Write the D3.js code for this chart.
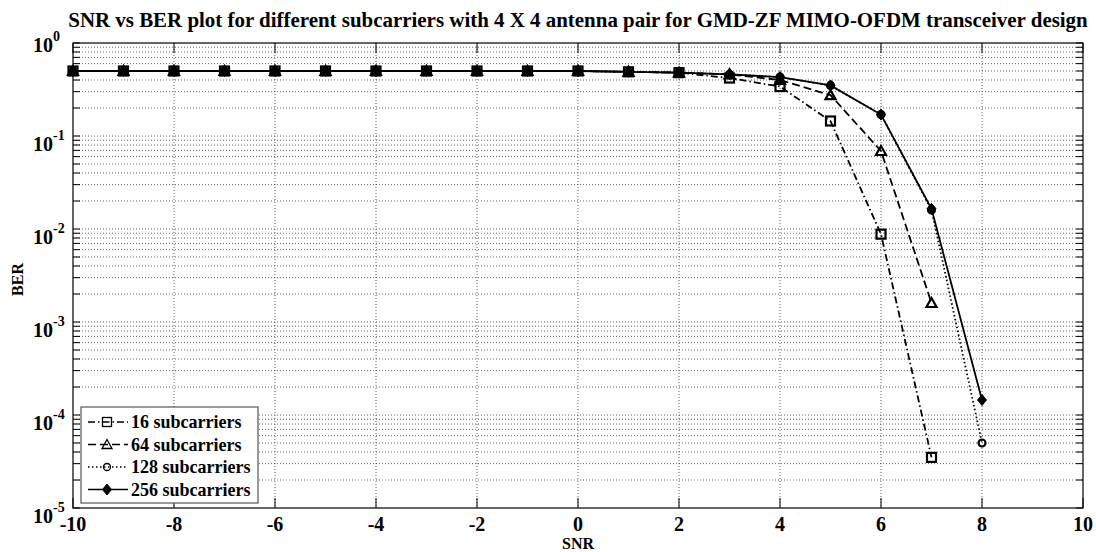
<!DOCTYPE html>
<html>
<head>
<meta charset="utf-8">
<script src="https://cdn.jsdelivr.net/npm/d3@7"></script>
<style>
  body { margin: 0; background: #fff; }
  svg { display: block; }
  text { font-family: "Liberation Serif", "Times New Roman", serif; font-weight: bold; fill: #000; }
</style>
</head>
<body>
<svg id="chart" width="1096" height="552"></svg>
<script>
// ---- data ----
const snr16  = [-10,-9,-8,-7,-6,-5,-4,-3,-2,-1,0,1,2,3,4,5,6,7];
const ber16  = [0.5,0.5,0.5,0.5,0.5,0.5,0.5,0.5,0.5,0.5,0.5,0.49,0.48,0.42,0.34,0.145,0.0088,3.5e-5];
const snr64  = [-10,-9,-8,-7,-6,-5,-4,-3,-2,-1,0,1,2,3,4,5,6,7];
const ber64  = [0.5,0.5,0.5,0.5,0.5,0.5,0.5,0.5,0.5,0.5,0.5,0.49,0.48,0.46,0.40,0.275,0.069,0.0016];
const snr128 = [-10,-9,-8,-7,-6,-5,-4,-3,-2,-1,0,1,2,3,4,5,6,7,8];
const ber128 = [0.5,0.5,0.5,0.5,0.5,0.5,0.5,0.5,0.5,0.5,0.5,0.49,0.48,0.46,0.43,0.35,0.17,0.016,5.0e-5];
const snr256 = [-10,-9,-8,-7,-6,-5,-4,-3,-2,-1,0,1,2,3,4,5,6,7,8];
const ber256 = [0.5,0.5,0.5,0.5,0.5,0.5,0.5,0.5,0.5,0.5,0.5,0.49,0.48,0.46,0.43,0.35,0.17,0.0165,1.45e-4];
const seriesNames = ["16 subcarriers","64 subcarriers","128 subcarriers","256 subcarriers"];
const xTicks = [-10,-8,-6,-4,-2,0,2,4,6,8,10];
const yExponents = [0,-1,-2,-3,-4,-5];
const titleText = "SNR vs BER plot for different subcarriers with 4 X 4 antenna pair for GMD-ZF MIMO-OFDM transceiver design";
const xLabel = "SNR";
const yLabel = "BER";

// ---- layout ----
const L = 73, R = 1083, T = 43, B = 508;
const svg = d3.select("#chart");
const x = d3.scaleLinear().domain([-10, 10]).range([L, R]);
const y = d3.scaleLog().domain([1e-5, 1]).range([B, T]);

// grid
const gridG = svg.append("g");
const minorVals = [];
for (let e = -5; e < 0; e++) for (let m = 1; m <= 9; m++) minorVals.push(m * Math.pow(10, e));
minorVals.forEach(v => {
  if (v <= 1e-5 + 1e-12) return;
  gridG.append("line").attr("x1", L).attr("x2", R).attr("y1", y(v)).attr("y2", y(v))
    .attr("stroke", "#333").attr("stroke-width", 1).attr("stroke-dasharray", "1,2").attr("opacity", 0.75);
});
xTicks.slice(1, -1).forEach(t => {
  gridG.append("line").attr("x1", x(t)).attr("x2", x(t)).attr("y1", T).attr("y2", B)
    .attr("stroke", "#333").attr("stroke-width", 1).attr("stroke-dasharray", "1,2").attr("opacity", 0.75);
});

// axes via d3
const xAxisB = d3.axisBottom(x).tickValues(xTicks).tickSize(0).tickFormat("");
svg.append("g").attr("transform", `translate(0,${B})`).call(xAxisB).select(".domain").remove();

// frame
svg.append("rect").attr("x", L).attr("y", T).attr("width", R - L).attr("height", B - T)
  .attr("fill", "none").attr("stroke", "#000").attr("stroke-width", 1.2);

// ticks
const tickG = svg.append("g").attr("stroke", "#000").attr("stroke-width", 1);
xTicks.forEach(t => {
  tickG.append("line").attr("x1", x(t)).attr("x2", x(t)).attr("y1", B).attr("y2", B - 10);
  tickG.append("line").attr("x1", x(t)).attr("x2", x(t)).attr("y1", T).attr("y2", T + 10);
});
minorVals.concat([1]).forEach(v => {
  tickG.append("line").attr("x1", L).attr("x2", L + 7).attr("y1", y(v)).attr("y2", y(v));
  tickG.append("line").attr("x1", R).attr("x2", R - 7).attr("y1", y(v)).attr("y2", y(v));
});

// tick labels
const xl = svg.append("g");
xTicks.forEach(t => {
  xl.append("text").attr("x", x(t)).attr("y", 531).attr("text-anchor", "middle")
    .attr("font-size", 20).text(d3.format("d")(t).replace("−", "-"));
});
const yl = svg.append("g");
yExponents.forEach(e => {
  const ty = y(Math.pow(10, e));
  const t = yl.append("text").attr("x", 33).attr("y", ty + (e === 0 ? 9 : 15)).attr("font-size", 20);
  t.append("tspan").text("10");
  t.append("tspan").attr("font-size", 14).attr("dy", -11).text(String(e));
});

// axis labels
svg.append("text").attr("x", x(0)).attr("y", 549).attr("text-anchor", "middle").attr("font-size", 16).text(xLabel);
svg.append("text").attr("transform", `translate(23,${(T + B) / 2 + 4}) rotate(-90)`)
  .attr("text-anchor", "middle").attr("font-size", 16).text(yLabel);

// title
const title = svg.append("text").attr("x", (L + R) / 2).attr("y", 27).attr("text-anchor", "middle")
  .attr("font-size", 18).text(titleText);
const tw = title.node().getComputedTextLength();
title.attr("font-size", 18 * 1020 / tw);

// series
const series = [
  { xs: snr16, ys: ber16, dash: "7,3,1.5,3", marker: "square" },
  { xs: snr64, ys: ber64, dash: "8,4", marker: "triangle" },
  { xs: snr128, ys: ber128, dash: "1.5,2.5", marker: "circle" },
  { xs: snr256, ys: ber256, dash: null, marker: "diamond" }
];
const line = d3.line().x(d => x(d[0])).y(d => y(d[1]));

function drawMarker(g, type, cx, cy, sw) {
  if (type === "square") {
    g.append("rect").attr("x", cx - 4.5).attr("y", cy - 4.5).attr("width", 9).attr("height", 9)
      .attr("fill", "none").attr("stroke", "#000").attr("stroke-width", sw);
  } else if (type === "triangle") {
    g.append("path").attr("d", `M${cx},${cy - 5} L${cx + 5},${cy + 4} L${cx - 5},${cy + 4} Z`)
      .attr("fill", "none").attr("stroke", "#000").attr("stroke-width", sw);
  } else if (type === "circle") {
    g.append("circle").attr("cx", cx).attr("cy", cy).attr("r", 3.5)
      .attr("fill", "none").attr("stroke", "#000").attr("stroke-width", sw);
  } else {
    g.append("path").attr("d", `M${cx},${cy - 5.5} L${cx + 4.5},${cy} L${cx},${cy + 5.5} L${cx - 4.5},${cy} Z`)
      .attr("fill", "#000").attr("stroke", "#000").attr("stroke-width", 1);
  }
}

const plotG = svg.append("g");
series.forEach(s => {
  const pts = s.xs.map((v, i) => [v, s.ys[i]]);
  plotG.append("path").datum(pts).attr("d", line).attr("fill", "none").attr("stroke", "#000")
    .attr("stroke-width", 1.8).attr("stroke-dasharray", s.dash);
  pts.forEach(p => drawMarker(plotG, s.marker, x(p[0]), y(p[1]), 2.2));
});

// legend
const lg = svg.append("g");
lg.append("rect").attr("x", 81).attr("y", 407).attr("width", 177).attr("height", 96)
  .attr("fill", "#fff").attr("stroke", "#555").attr("stroke-width", 1.2);
series.forEach((s, i) => {
  const ly = 422 + i * 22.5;
  lg.append("line").attr("x1", 88).attr("x2", 128).attr("y1", ly).attr("y2", ly)
    .attr("stroke", "#000").attr("stroke-width", 1.5).attr("stroke-dasharray", s.dash);
  drawMarker(lg, s.marker, 107, ly, 1.3);
  lg.append("text").attr("x", 131).attr("y", ly + 6).attr("font-size", 18).text(seriesNames[i]);
});
</script>
</body>
</html>
